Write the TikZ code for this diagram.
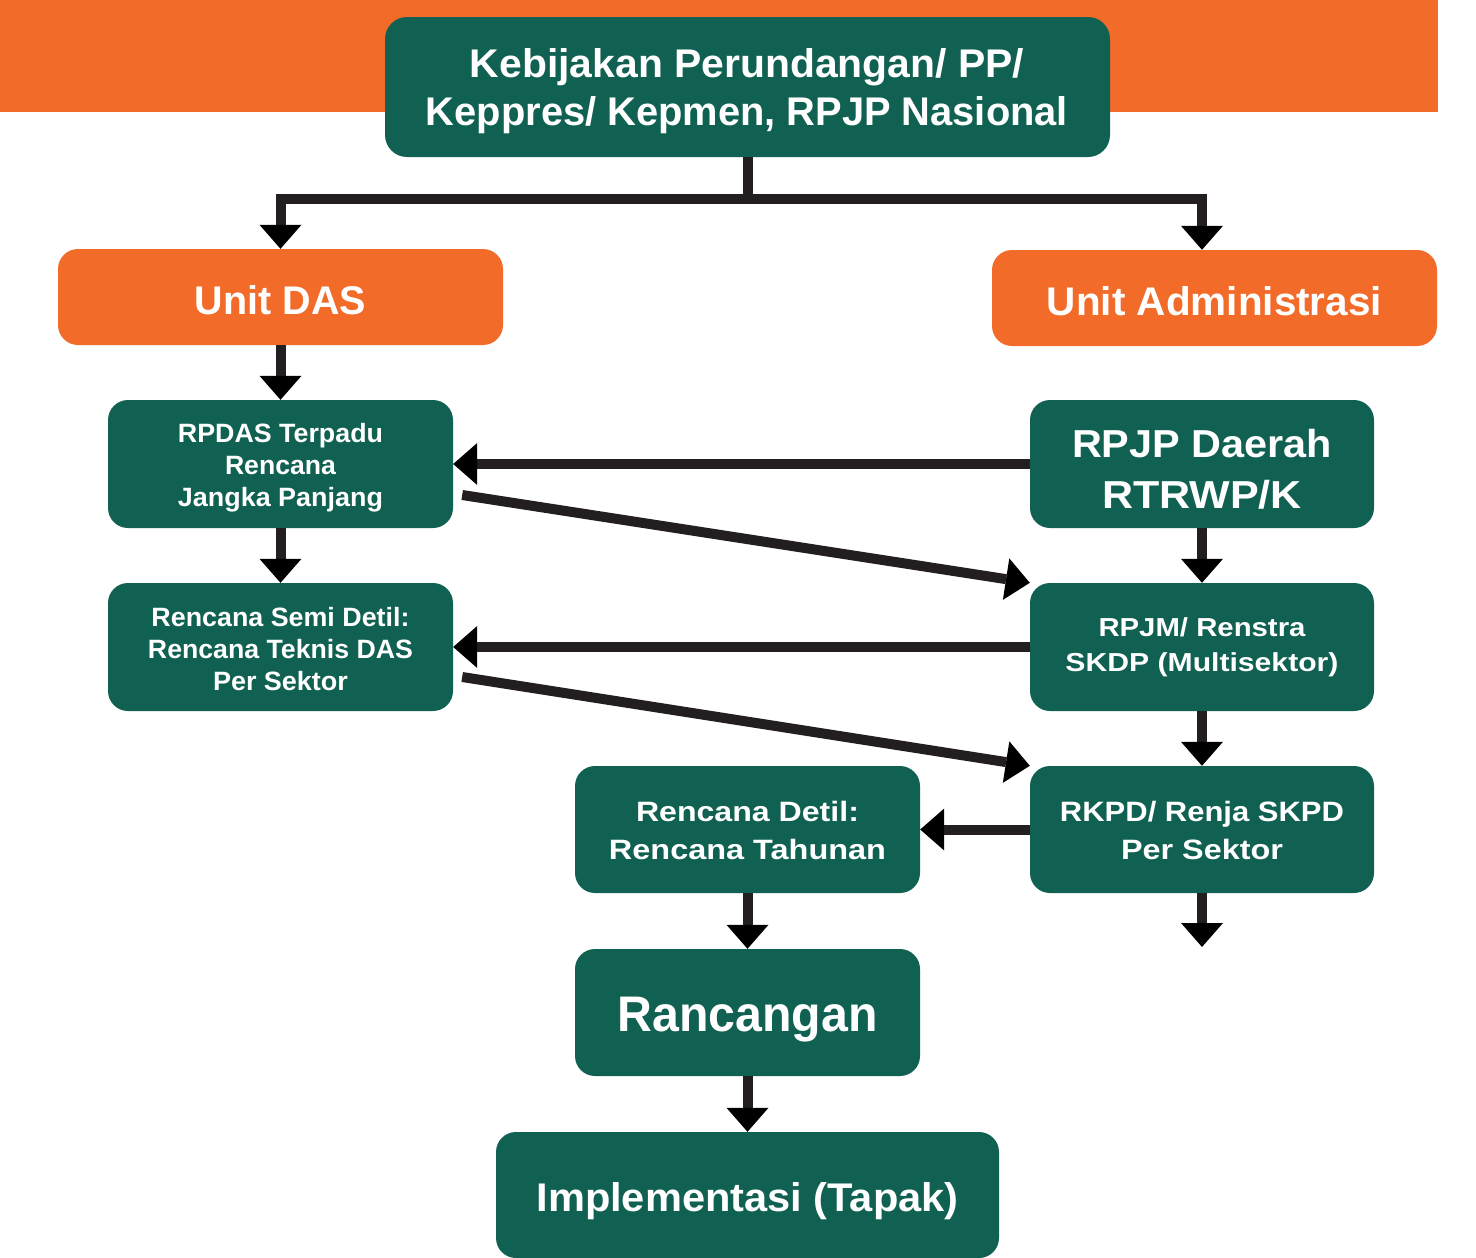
\documentclass[tikz,border=0pt]{standalone}
\usepackage{fontspec}
\setmainfont{Liberation Sans}
\usepackage{graphicx}
\usetikzlibrary{arrows.meta,calc}
\definecolor{dgreen}{RGB}{17,97,82}
\definecolor{orng}{RGB}{242,107,41}
\definecolor{lnk}{RGB}{35,31,32}
\newcommand{\fl}[2]{\resizebox{#1pt}{\height}{#2}}
\begin{document}
\begin{tikzpicture}[x=1pt,y=-1pt,
  gbox/.style={rectangle, rounded corners=20pt, fill=dgreen, inner sep=0pt, draw=none},
  obox/.style={rectangle, rounded corners=20pt, fill=orng, inner sep=0pt, draw=none},
  conn/.style={draw=lnk, line width=10pt, line join=miter,
    -{Triangle[width=42pt,length=24pt,fill=black,line width=0pt]}},
  plain/.style={draw=lnk, line width=10pt},
  txt/.style={text=white, inner sep=0pt, anchor=base},
  fa/.style={font=\bfseries\fontsize{40}{48}\selectfont},
  fb/.style={font=\bfseries\fontsize{26.5}{32}\selectfont},
  fc/.style={font=\bfseries\fontsize{39}{48}\selectfont},
  fd/.style={font=\bfseries\fontsize{26}{32}\selectfont},
  fe/.style={font=\bfseries\fontsize{28}{34}\selectfont},
  ff/.style={font=\bfseries\fontsize{50}{60}\selectfont}]
\useasboundingbox (0,0) rectangle (1476,1258);
\fill[orng] (0,0) rectangle (1438,112);

% boxes
\node[gbox, rounded corners=22pt, minimum width=725pt, minimum height=140pt] (top) at (747.5,87) {};
\node[obox, minimum width=445pt, minimum height=96pt] (unitdas) at (280.5,297) {};
\node[obox, minimum width=445pt, minimum height=96pt] (unitadm) at (1214.5,298) {};
\node[gbox, minimum width=345pt, minimum height=128pt] (rpdas) at (280.5,464) {};
\node[gbox, minimum width=345pt, minimum height=128pt] (semi) at (280.5,647) {};
\node[gbox, minimum width=344pt, minimum height=128pt] (rpjpd) at (1202,464) {};
\node[gbox, minimum width=344pt, minimum height=128pt] (rpjm) at (1202,647) {};
\node[gbox, minimum width=344pt, minimum height=127pt] (rkpd) at (1202,829.5) {};
\node[gbox, minimum width=345pt, minimum height=127pt] (detil) at (747.5,829.5) {};
\node[gbox, minimum width=345pt, minimum height=127pt] (ranc) at (747.5,1012.5) {};
\node[gbox, minimum width=503pt, minimum height=126pt] (impl) at (747.5,1195) {};

% texts
\node[txt,fa] (t1) at (747,77) {\fl{554}{Kebijakan Perundangan/ PP/}};
\node[txt,fa] (t2) at (747,125) {\fl{642}{Keppres/ Kepmen, RPJP Nasional}};
\node[txt,fa] (t3) at (280.5,314) {\fl{171}{Unit DAS}};
\node[txt,fa] (t4) at (1214.5,315) {\fl{335}{Unit Administrasi}};
\node[txt,fb] (t5) at (280.5,442) {\fl{205}{RPDAS Terpadu}};
\node[txt,fb] (t6) at (280.5,474) {\fl{111}{Rencana}};
\node[txt,fb] (t7) at (280.5,506) {\fl{205}{Jangka Panjang}};
\node[txt,fb] (t8) at (280.5,626) {\fl{258}{Rencana Semi Detil:}};
\node[txt,fb] (t9) at (280.5,658) {\fl{265}{Rencana Teknis DAS}};
\node[txt,fb] (t10) at (280.5,690) {\fl{135}{Per Sektor}};
\node[txt,fc] (t11) at (1202,457) {\fl{260}{RPJP Daerah}};
\node[txt,fc] (t12) at (1202,508) {\fl{200}{RTRWP/K}};
\node[txt,fd] (t13) at (1202,636) {\fl{207}{RPJM/ Renstra}};
\node[txt,fd] (t14) at (1202,671) {\fl{273}{SKDP (Multisektor)}};
\node[txt,fe] (t15) at (1202,821) {\fl{284}{RKPD/ Renja SKPD}};
\node[txt,fe] (t16) at (1202,859) {\fl{162}{Per Sektor}};
\node[txt,fe] (t17) at (747.5,821) {\fl{223}{Rencana Detil:}};
\node[txt,fe] (t18) at (747.5,859) {\fl{277}{Rencana Tahunan}};
\node[txt,ff] (t19) at (747.5,1031) {\fl{260}{Rancangan}};
\node[txt,fa] (t20) at (747.5,1211) {\fl{422}{Implementasi (Tapak)}};

% connectors
\coordinate (j) at (747.5,199);
\draw[plain] (top.south) -- (j);
\draw[conn] (j) -| (unitdas.north);
\draw[conn] (j) -| (rpjpd.north |- unitadm.north);
\draw[conn] (unitdas.south) -- (rpdas.north);
\draw[conn] (rpdas.south) -- (semi.north);
\draw[conn] (rpjpd.south) -- (rpjm.north);
\draw[conn] (rpjm.south) -- (rkpd.north);
\coordinate (rkend) at (1202,947);
\draw[conn] (rkpd.south) -- (rkend);
\draw[conn] (detil.south) -- (ranc.north);
\draw[conn] (ranc.south) -- (impl.north);
\draw[conn] (rpjpd.west) -- (rpdas.east);
\draw[conn] (rpjm.west) -- (semi.east);
\draw[conn] (rkpd.west) -- (detil.east);
\draw[conn] ($(rpdas.east)+(9,31)$) -- (rpjm.north west);
\draw[conn] ($(semi.east)+(9,30)$) -- (rkpd.north west);
\end{tikzpicture}
\end{document}
